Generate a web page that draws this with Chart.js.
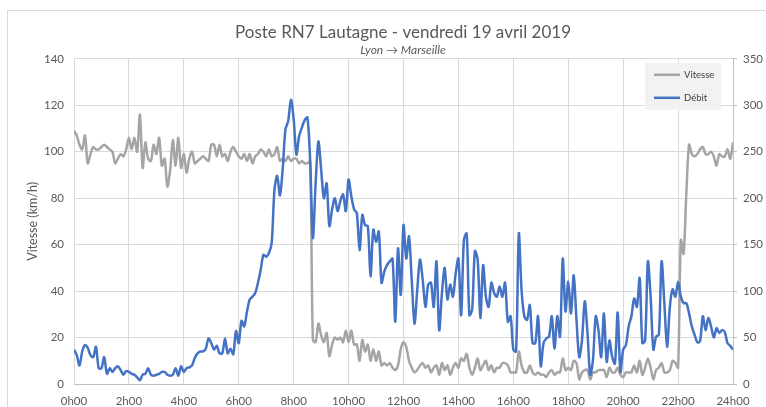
<!DOCTYPE html>
<html>
<head>
<meta charset="utf-8">
<script src="https://cdn.jsdelivr.net/npm/chart.js@4.4.0/dist/chart.umd.min.js"></script>
<style>
html, body { margin: 0; padding: 0; background: #fff; overflow: hidden; }
#frame { position: absolute; left: 7px; top: 10px; width: 800px; height: 420px; border: 1px solid #d9d9d9; }
#frame canvas { position: absolute; left: 0; top: 0; }
</style>
</head>
<body>
<div id="frame"><canvas id="chart" width="790" height="420"></canvas></div>
<script>
// one measure every 6 minutes, 0h00 -> 24h00
const stepMinutes = 6;
const hourLabels = ['0h00','2h00','4h00','6h00','8h00','10h00','12h00','14h00','16h00','18h00','20h00','22h00','24h00'];

const vitesse = [
  109,107,103,101,107,95,99,102,101,101,
  102,103,102,101,100,95,97,99,98,101,
  106,101,106,100,116,93,104,97,96,103,
  99,106,94,97,85,92,105,94,106,93,
  99,91,97,100,95,96,97,98,97,96,
  103,103,98,103,98,99,96,100,102,100,
  98,97,99,96,99,95,98,99,101,100,
  98,101,98,99,102,96,97,96,98,96,
  97,97,95,96,95,95,96,19,18,26,
  21,18,22,12,17,20,19,20,18,23,
  18,23,17,17,10,19,14,17,10,15,
  10,14,8,9,8,9,7,6,8,15,
  18,16,10,7,5,6,8,9,7,8,
  5,7,8,4,9,6,8,4,7,9,
  7,11,10,13,7,4,7,11,6,8,
  10,6,8,5,7,7,9,9,8,5,
  5,5,14,8,5,5,8,5,4,5,
  4,4,3,5,6,4,5,5,11,6,
  7,6,10,9,2,5,6,6,2,5,
  5,6,6,6,3,7,5,5,7,4,
  3,5,5,5,8,5,10,4,7,11,
  7,2,6,7,9,5,5,6,10,9,
  7,62,56,82,103,99,98,99,101,102,
  99,99,100,98,94,99,98,98,101,97,104
];

const debit = [
  37,31,20,35,42,39,31,29,40,17,
  17,29,11,17,13,17,19,15,10,14,
  13,11,10,7,4,10,11,17,10,9,
  10,11,13,13,10,9,10,17,9,19,
  13,17,18,20,28,33,35,35,38,49,
  44,37,41,33,33,49,33,38,32,57,
  44,68,62,78,91,94,98,109,123,139,
  137,141,152,209,224,203,231,274,283,306,
  285,247,267,276,284,287,241,157,216,261,
  231,200,216,170,188,200,186,197,204,186,
  220,202,188,184,144,182,171,170,116,166,
  153,164,109,121,128,132,135,67,146,96,
  171,135,159,112,65,101,134,112,83,107,
  109,83,132,58,98,125,91,107,94,119,
  135,74,155,162,74,80,143,134,71,128,
  94,83,109,98,94,105,94,109,67,73,
  37,35,162,101,73,69,85,44,44,73,
  19,44,49,51,73,38,73,51,135,78,
  110,76,117,69,29,47,89,55,10,26,
  73,58,29,76,24,47,29,22,77,13,
  37,42,62,73,92,83,114,44,47,132,
  94,37,51,53,132,87,40,83,102,94,
  110,94,87,87,76,62,53,45,46,73,
  58,71,62,50,60,55,58,56,44,41,37
];

const toPoints = arr => arr.map((v, i) => ({ x: i * stepMinutes, y: v }));

const fontFamily = 'Lato, "Noto Sans", sans-serif';
const textColor = '#595959';
const gridColor = '#d9d9d9';

// small grey legend box in the top right corner of the plot, like Excel
const boxLegend = {
  id: 'boxLegend',
  afterDraw(chart) {
    const ctx = chart.ctx;
    const area = chart.chartArea;
    const w = 76, h = 47;
    const x = area.right - w - 12;
    const y = area.top + 4;
    ctx.save();
    ctx.fillStyle = '#f2f2f2';
    ctx.fillRect(x, y, w, h);
    ctx.font = '9.5px ' + fontFamily;
    ctx.textBaseline = 'middle';
    const order = [1, 0];
    order.forEach((di, row) => {
      const ds = chart.data.datasets[di];
      const ly = y + 12 + row * 23;
      ctx.strokeStyle = ds.borderColor;
      ctx.lineWidth = 2.5;
      ctx.beginPath();
      ctx.moveTo(x + 9, ly);
      ctx.lineTo(x + 35, ly);
      ctx.stroke();
      ctx.fillStyle = '#404040';
      ctx.fillText(ds.label, x + 39, ly);
    });
    ctx.restore();
  }
};

new Chart(document.getElementById('chart'), {
  type: 'line',
  data: {
    datasets: [
      {
        label: 'Débit',
        data: toPoints(debit),
        yAxisID: 'y1',
        borderColor: '#4472c4',
        borderWidth: 2.5,
        pointRadius: 0,
        tension: 0.3,
        order: 0
      },
      {
        label: 'Vitesse',
        data: toPoints(vitesse),
        yAxisID: 'y',
        borderColor: '#a5a5a5',
        borderWidth: 2.5,
        pointRadius: 0,
        tension: 0.3,
        order: 1
      }
    ]
  },
  options: {
    responsive: false,
    animation: false,
    layout: { padding: 0 },
    plugins: {
      legend: { display: false },
      tooltip: { enabled: false },
      title: {
        display: true,
        text: 'Poste RN7 Lautagne - vendredi 19 avril 2019',
        color: textColor,
        font: { family: fontFamily, size: 17, weight: 'normal' },
        padding: { top: 11, bottom: 1 }
      },
      subtitle: {
        display: true,
        text: 'Lyon \u2192 Marseille',
        color: textColor,
        font: { family: fontFamily, size: 12, style: 'italic' },
        padding: { top: 0, bottom: 1 }
      }
    },
    scales: {
      x: {
        type: 'linear',
        min: 0,
        max: 1440,
        ticks: {
          stepSize: 120,
          color: textColor,
          font: { family: fontFamily, size: 11.5 },
          padding: 10,
          maxRotation: 0,
          callback: v => hourLabels[v / 120]
        },
        grid: { color: gridColor, drawTicks: false },
        border: { color: '#bfbfbf' },
        afterFit: s => { s.height = 47; }
      },
      y: {
        position: 'left',
        min: 0,
        max: 140,
        ticks: { stepSize: 20, color: textColor, font: { family: fontFamily, size: 11.5 }, padding: 10 },
        grid: { color: gridColor, drawTicks: false },
        border: { display: false },
        title: {
          display: true,
          text: 'Vitesse (km/h)',
          color: textColor,
          font: { family: fontFamily, size: 12.5 },
          padding: { top: 17, bottom: 0 }
        },
        afterFit: s => { s.width = 66; }
      },
      y1: {
        position: 'right',
        min: 0,
        max: 350,
        ticks: { stepSize: 50, color: textColor, font: { family: fontFamily, size: 11.5 }, padding: 6 },
        grid: { drawOnChartArea: false, color: '#bfbfbf', tickLength: 4 },
        border: { color: '#bfbfbf' },
        title: {
          display: true,
          text: 'Débit (véh/h)',
          color: textColor,
          font: { family: fontFamily, size: 12.5 },
          padding: { top: 0, bottom: 0 }
        },
        afterFit: s => { s.width = 65; }
      }
    }
  },
  plugins: [boxLegend]
});
</script>
</body>
</html>
